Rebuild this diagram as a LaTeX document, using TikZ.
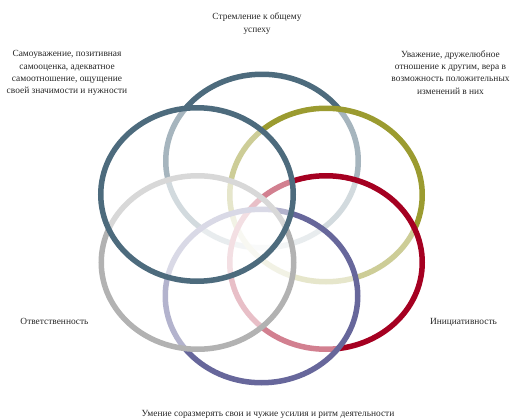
\documentclass[tikz,border=0pt]{standalone}
\usepackage{fontspec}
\setmainfont{Liberation Serif}
\definecolor{cblue}{HTML}{4D6B7D}
\definecolor{colive}{HTML}{9B9B30}
\definecolor{cred}{HTML}{A50021}
\definecolor{cpurple}{HTML}{67679B}
\definecolor{cgray}{HTML}{B2B2B2}
\definecolor{txt}{HTML}{262626}
\begin{document}
\begin{tikzpicture}[x=1pt,y=-1pt,
  ring/.style={line width=5.5pt, fill=white, fill opacity=0.5, draw opacity=1},
  lbl/.style={font=\fontsize{9.4}{12.3}\selectfont, text=txt, align=center, inner sep=0pt}]
\useasboundingbox (0,0) rectangle (512,418);
\coordinate (ctop) at (262,161);
\coordinate (colv) at (326,195);
\coordinate (cr) at (326,262.5);
\coordinate (cp) at (261.5,296);
\coordinate (cg) at (197.5,262.5);
\coordinate (cul) at (197,194.5);
\draw[ring, draw=cblue] (ctop) ellipse [x radius=96.25pt, y radius=86.75pt];
\draw[ring, draw=colive] (colv) ellipse [x radius=96.25pt, y radius=86.75pt];
\draw[ring, draw=cred] (cr) ellipse [x radius=96.25pt, y radius=86.75pt];
\draw[ring, draw=cpurple] (cp) ellipse [x radius=96.25pt, y radius=86.75pt];
\draw[ring, draw=cgray] (cg) ellipse [x radius=96.25pt, y radius=86.75pt];
\draw[ring, draw=cblue] (cul) ellipse [x radius=96.25pt, y radius=86.75pt];
\node[lbl] (ttop) at (257,23.7) {Стремление к общему\\успеху};
\node[lbl] (tul) at (67,73.2) {Самоуважение, позитивная\\самооценка, адекватное\\самоотношение, ощущение\\своей значимости и нужности};
\node[lbl] (tur) at (450.5,72.5) {Уважение, дружелюбное\\отношение к другим, вера в\\возможность положительных\\изменений в них};
\node[lbl, anchor=base] (tl) at (54.5,324) {Ответственность};
\node[lbl, anchor=base] (tr) at (463.5,324) {Инициативность};
\node[lbl, anchor=base] (tb) at (268,416.5) {Умение соразмерять свои и чужие усилия и ритм деятельности};
\end{tikzpicture}
\end{document}
